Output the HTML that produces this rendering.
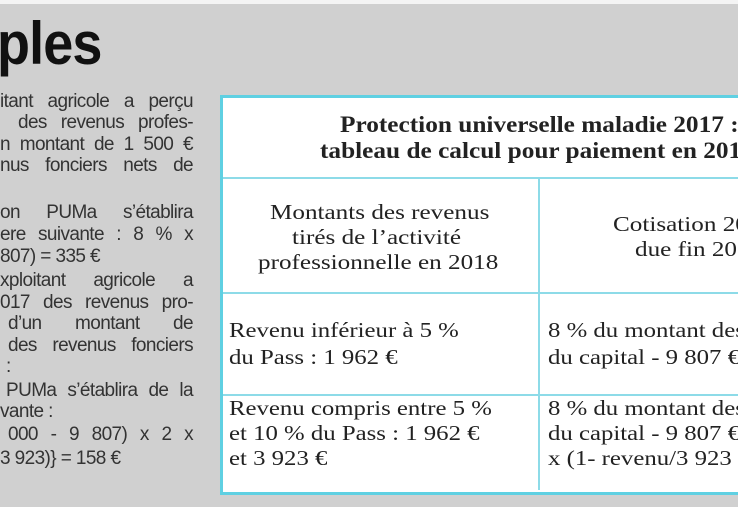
<!DOCTYPE html>
<html><head><meta charset="utf-8"><style>
html,body{margin:0;width:738px;height:507px;overflow:hidden}
#w{position:relative;width:738px;height:507px;overflow:hidden;background:#d0d0d0;font-family:"Liberation Sans",sans-serif}
.top{position:absolute;left:0;top:0;width:738px;height:4px;background:#f4f4f4}
.h{position:absolute;left:-3px;top:4px;font:bold 60px/80px "Liberation Sans",sans-serif;color:#111;transform:scaleX(0.9);transform-origin:left;letter-spacing:-1px}
.l{position:absolute;left:0;width:193px;font-size:19px;line-height:22px;color:#333;text-align:justify;text-align-last:justify;white-space:nowrap;letter-spacing:-0.6px}
.l.s{text-align-last:left}
.tb{position:absolute;left:220px;top:95px;width:540px;height:394px;background:#fff;border:3px solid #5fd0e2}
.hl{position:absolute;left:223px;width:515px;height:1.5px;background:#8ddbe8}
.vl{position:absolute;left:538px;top:177px;width:1.5px;height:313px;background:#8ddbe8}
.t{position:absolute;font-family:"Liberation Serif",serif;color:#222;white-space:nowrap;transform-origin:left top}
.b{font-weight:bold;font-size:23px;line-height:26px;transform:scaleX(1.1)}
.c{font-size:21.5px;line-height:25px;transform:scaleX(1.17)}
.r{font-size:21px;line-height:25px;transform:scaleX(1.18)}
</style></head><body><div id="w">
<div class="top"></div>
<div class="h">ples</div>
<div class="l" style="top:91px">itant agricole a perçu</div>
<div class="l" style="top:112px;left:18px;width:175px">des revenus profes-</div>
<div class="l" style="top:134px">n montant de 1 500 €</div>
<div class="l" style="top:155px">nus fonciers nets de</div>
<div class="l" style="top:202px">on PUMa s’établira</div>
<div class="l" style="top:224px">ere suivante : 8 % x</div>
<div class="l s" style="top:246px">807) = 335 €</div>
<div class="l" style="top:270px">xploitant agricole a</div>
<div class="l" style="top:292px">017 des revenus pro-</div>
<div class="l" style="top:313px;left:8px;width:185px">d’un montant de</div>
<div class="l" style="top:335px;left:8px;width:185px">des revenus fonciers</div>
<div class="l s" style="top:356px;left:6px">:</div>
<div class="l" style="top:380px;left:6px;width:187px">PUMa s’établira de la</div>
<div class="l s" style="top:401px">vante :</div>
<div class="l" style="top:424px;left:8px;width:185px">000 - 9 807) x 2 x</div>
<div class="l s" style="top:448px">3 923)} = 158 €</div>

<div class="tb"></div>
<div class="hl" style="top:177px"></div>
<div class="hl" style="top:292px"></div>
<div class="hl" style="top:394px"></div>
<div class="vl"></div>

<div class="t b" style="left:340px;top:112px">Protection universelle maladie 2017 :</div>
<div class="t b" style="left:320px;top:138px">tableau de calcul pour paiement en 2018</div>

<div class="t c" style="left:270px;top:200px">Montants des revenus</div>
<div class="t c" style="left:292px;top:225px">tirés de l’activité</div>
<div class="t c" style="left:258px;top:250px">professionnelle en 2018</div>
<div class="t c" style="left:613px;top:212px">Cotisation 2017</div>
<div class="t c" style="left:635px;top:237px">due fin 2018</div>

<div class="t r" style="left:229px;top:317px;line-height:27px">Revenu inférieur à 5 %<br>du Pass : 1 962 €</div>
<div class="t r" style="left:548px;top:317px;line-height:27px">8 % du montant des revenus<br>du capital - 9 807 €</div>
<div class="t r" style="left:229px;top:396px">Revenu compris entre 5 %<br>et 10 % du Pass : 1 962 €<br>et 3 923 €</div>
<div class="t r" style="left:548px;top:396px">8 % du montant des revenus<br>du capital - 9 807 €) x 2<br>x (1- revenu/3 923 €)</div>
</div></body></html>
